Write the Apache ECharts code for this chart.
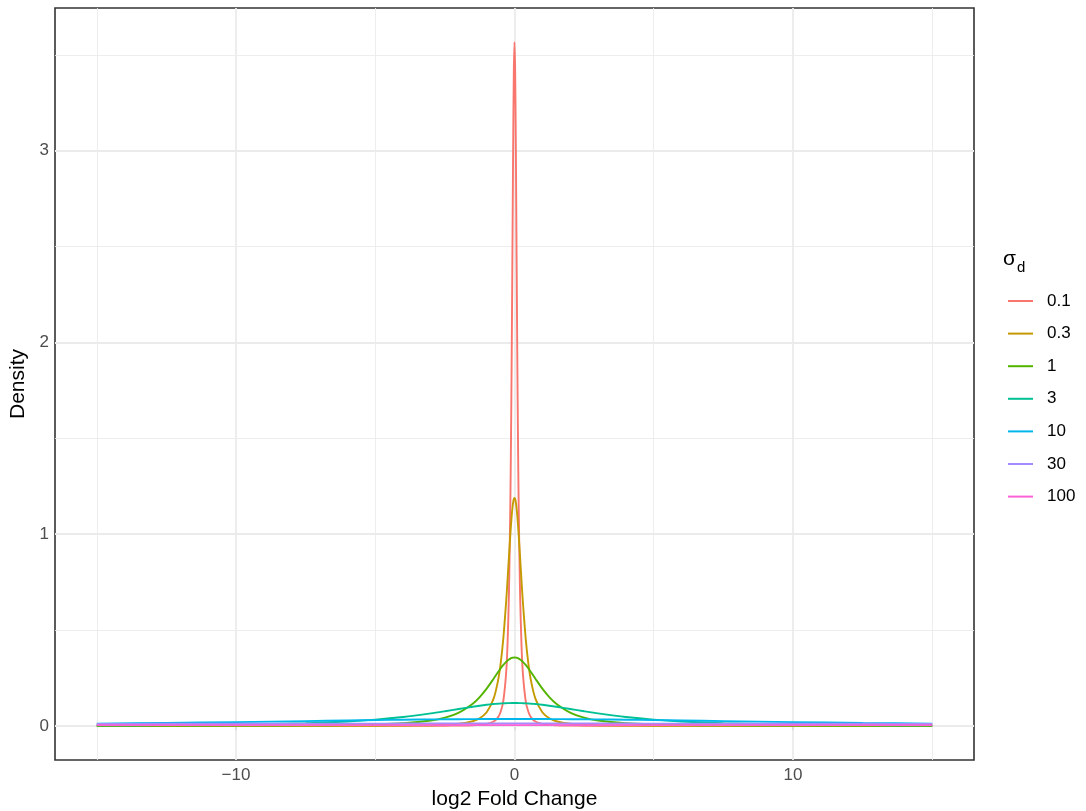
<!DOCTYPE html>
<html>
<head>
<meta charset="utf-8">
<script src="https://cdn.jsdelivr.net/npm/echarts@6/dist/echarts.min.js"></script>
<style>
  html, body { margin: 0; padding: 0; background: #ffffff; }
  #chart { width: 1086px; height: 811px; }
</style>
</head>
<body>
<div id="chart"></div>
<script>
// log2 fold-change positions shared by every curve (dense near 0 for the narrow peaks)
const lfc = [-15,-12.5,-10,-7.5,-6,-5,-4,-3,-2.5,-2,-1.5,-1.25,-1,-0.75,-0.6,-0.5,-0.4,-0.3,-0.25,-0.2,-0.15,-0.125,-0.1,-0.075,-0.05,-0.025,
  0,
  0.025,0.05,0.075,0.1,0.125,0.15,0.2,0.25,0.3,0.4,0.5,0.6,0.75,1,1.25,1.5,2,2.5,3,4,5,6,7.5,10,12.5,15];

const sigmaLabels = ['0.1', '0.3', '1', '3', '10', '30', '100'];

// density of each curve at the positions in lfc
const dens01 = [0.000003,0.000005,0.00001,0.00002,0.00005,0.00008,0.00016,0.00037,0.00064,0.0013,0.0029,0.0051,0.0098,0.0227,0.043,0.072,0.132,0.276,0.426,0.686,1.151,1.500,1.941,2.459,2.989,3.405,
  3.566,
  3.405,2.989,2.459,1.941,1.500,1.151,0.686,0.426,0.276,0.132,0.072,0.043,0.0227,0.0098,0.0051,0.0029,0.0013,0.00064,0.00037,0.00016,0.00008,0.00005,0.00002,0.00001,0.000005,0.000003];
const dens03 = [0.00003,0.00005,0.00009,0.00021,0.00042,0.0007,0.0014,0.0033,0.0056,0.0106,0.0240,0.0395,0.0708,0.142,0.229,0.322,0.458,0.647,0.760,0.880,0.996,1.049,1.096,1.135,1.164,1.183,
  1.189,
  1.183,1.164,1.135,1.096,1.049,0.996,0.880,0.760,0.647,0.458,0.322,0.229,0.142,0.0708,0.0395,0.0240,0.0106,0.0056,0.0033,0.0014,0.0007,0.00042,0.00021,0.00009,0.00005,0.00003];
const dens1 = [0.00029,0.00051,0.00098,0.00227,0.0043,0.0072,0.0132,0.0276,0.0426,0.0686,0.1151,0.1500,0.1941,0.2459,0.2782,0.2989,0.3177,0.3338,0.3405,0.3462,0.3507,0.3525,0.3539,0.3551,0.3559,0.3564,
  0.3566,
  0.3564,0.3559,0.3551,0.3539,0.3525,0.3507,0.3462,0.3405,0.3338,0.3177,0.2989,0.2782,0.2459,0.1941,0.1500,0.1151,0.0686,0.0426,0.0276,0.0132,0.0072,0.0043,0.00227,0.00098,0.00051,0.00029];
const dens3 = [0.0024,0.0039,0.0071,0.0142,0.0229,0.0322,0.0458,0.0647,0.0760,0.0880,0.0996,0.1049,0.1096,0.1135,0.1154,0.1164,0.1173,0.1180,0.1183,0.1185,0.1186,0.1187,0.1188,0.1188,0.1188,0.1189,
  0.1189,
  0.1189,0.1188,0.1188,0.1188,0.1187,0.1186,0.1185,0.1183,0.1180,0.1173,0.1164,0.1154,0.1135,0.1096,0.1049,0.0996,0.0880,0.0760,0.0647,0.0458,0.0322,0.0229,0.0142,0.0071,0.0039,0.0024];
const dens10 = [0.01151,0.01500,0.01941,0.02459,0.02782,0.02989,0.03177,0.03338,0.03405,0.03462,0.03507,0.03525,0.03539,0.03551,0.03556,0.03559,0.03562,0.03564,0.03564,0.03564,0.03565,0.03565,0.03565,0.03566,0.03566,0.03566,
  0.03566,
  0.03566,0.03566,0.03566,0.03565,0.03565,0.03565,0.03564,0.03564,0.03564,0.03562,0.03559,0.03556,0.03551,0.03539,0.03525,0.03507,0.03462,0.03405,0.03338,0.03177,0.02989,0.02782,0.02459,0.01941,0.01500,0.01151];
const dens30 = [0.00996,0.01049,0.01096,0.01135,0.01154,0.01164,0.01173,0.01180,0.01183,0.01185,0.01187,0.01187,0.01188,0.01189,0.01189,0.01189,0.01189,0.01189,0.01189,0.01189,0.01189,0.01189,0.01189,0.01189,0.01189,0.01189,
  0.01189,
  0.01189,0.01189,0.01189,0.01189,0.01189,0.01189,0.01189,0.01189,0.01189,0.01189,0.01189,0.01189,0.01189,0.01188,0.01187,0.01187,0.01185,0.01183,0.01180,0.01173,0.01164,0.01154,0.01135,0.01096,0.01049,0.00996];
const dens100 = [0.00351,0.00353,0.00354,0.00355,0.00356,0.00356,0.00356,0.00357,0.00357,0.00357,0.00357,0.00357,0.00357,0.00357,0.00357,0.00357,0.00357,0.00357,0.00357,0.00357,0.00357,0.00357,0.00357,0.00357,0.00357,0.00357,
  0.00357,
  0.00357,0.00357,0.00357,0.00357,0.00357,0.00357,0.00357,0.00357,0.00357,0.00357,0.00357,0.00357,0.00357,0.00357,0.00357,0.00357,0.00357,0.00357,0.00357,0.00356,0.00356,0.00356,0.00355,0.00354,0.00353,0.00351];

const densities = [dens01, dens03, dens1, dens3, dens10, dens30, dens100];

// axis breaks and tick labels
const xMajorBreaks = [-10, 0, 10];
const xMinorBreaks = [-15, -5, 5, 15];
const yMajorBreaks = [0, 1, 2, 3];
const yMinorBreaks = [0.5, 1.5, 2.5, 3.5];
const xTickLabels = ['\u221210', '0', '10'];
const yTickLabels = ['0', '1', '2', '3'];

const hueColors = ['#F8766D', '#C49A00', '#53B400', '#00C094', '#00B6EB', '#A58AFF', '#FB61D7'];

const FONT = '"Liberation Sans", Arial, Helvetica, sans-serif';
const GRID_COLOR = '#EBEBEB';
const TICK_FONT = 17;
const TITLE_FONT = 21;

const chart = echarts.init(document.getElementById('chart'), null, { renderer: 'canvas' });

// panel grid lines, drawn as mark lines beneath the curves
const gridLineData = []
  .concat(xMinorBreaks.map(v => ({ xAxis: v, lineStyle: { width: 0.9 } })))
  .concat(yMinorBreaks.map(v => ({ yAxis: v, lineStyle: { width: 0.9 } })))
  .concat(xMajorBreaks.map(v => ({ xAxis: v, lineStyle: { width: 1.8 } })))
  .concat(yMajorBreaks.map(v => ({ yAxis: v, lineStyle: { width: 1.8 } })));

const curveSeries = sigmaLabels.map((name, k) => ({
  name: name,
  type: 'line',
  data: lfc.map((x, i) => [x, densities[k][i]]),
  showSymbol: false,
  symbol: 'none',
  smooth: 0.25,
  z: 3,
  lineStyle: { color: hueColors[k], width: 1.9 },
  itemStyle: { color: hueColors[k] },
  emphasis: { disabled: true },
  animation: false
}));

const option = {
  backgroundColor: '#ffffff',
  animation: false,
  textStyle: { fontFamily: FONT },
  grid: {
    left: 55, right: 112, top: 8, bottom: 51,
    outerBoundsMode: 'none',
    show: true,
    backgroundColor: '#ffffff',
    borderColor: '#333333',
    borderWidth: 1.6
  },
  xAxis: {
    type: 'value',
    min: -16.5,
    max: 16.5,
    axisLine: { show: false },
    splitLine: { show: false },
    axisTick: {
      show: true, customValues: xMajorBreaks, length: 4.5,
      lineStyle: { color: '#333333', width: 1.6 }
    },
    axisLabel: {
      customValues: xMajorBreaks,
      formatter: v => xTickLabels[xMajorBreaks.indexOf(v)],
      margin: 6.5, color: '#4D4D4D', fontSize: TICK_FONT, fontFamily: FONT
    },
    name: 'log2 Fold Change',
    nameLocation: 'middle',
    nameGap: 28,
    nameTextStyle: { color: '#000000', fontSize: TITLE_FONT, fontFamily: FONT }
  },
  yAxis: {
    type: 'value',
    min: -0.1783,
    max: 3.7443,
    axisLine: { show: false },
    splitLine: { show: false },
    axisTick: {
      show: true, customValues: yMajorBreaks, length: 4.5,
      lineStyle: { color: '#333333', width: 1.6 }
    },
    axisLabel: {
      customValues: yMajorBreaks,
      formatter: v => yTickLabels[yMajorBreaks.indexOf(v)],
      margin: 6, color: '#4D4D4D', fontSize: TICK_FONT, fontFamily: FONT
    },
    name: 'Density',
    nameLocation: 'middle',
    nameGap: 22,
    nameTextStyle: { color: '#000000', fontSize: TITLE_FONT, fontFamily: FONT }
  },
  legend: {
    orient: 'vertical',
    left: 1008,
    top: 292.5,
    padding: 0,
    icon: 'rect',
    itemWidth: 25,
    itemHeight: 2,
    itemGap: 15.6,
    selectedMode: false,
    data: sigmaLabels,
    textStyle: { color: '#000000', fontSize: TICK_FONT, lineHeight: 17, fontFamily: FONT, padding: [0, 0, 0, 9] }
  },
  graphic: [
    { type: 'text', left: 1003, top: 249, style: { text: '\u03C3', fontSize: TITLE_FONT, fill: '#000000', fontFamily: FONT } },
    { type: 'text', left: 1017, top: 260, style: { text: 'd', fontSize: 15, fill: '#000000', fontFamily: FONT } }
  ],
  series: [{
    name: 'panel-grid',
    type: 'line',
    data: [],
    silent: true,
    z: 1,
    markLine: {
      silent: true,
      z: 1,
      symbol: ['none', 'none'],
      label: { show: false },
      animation: false,
      lineStyle: { color: GRID_COLOR, type: 'solid' },
      emphasis: { disabled: true },
      data: gridLineData
    }
  }].concat(curveSeries)
};

chart.setOption(option);
</script>
</body>
</html>
